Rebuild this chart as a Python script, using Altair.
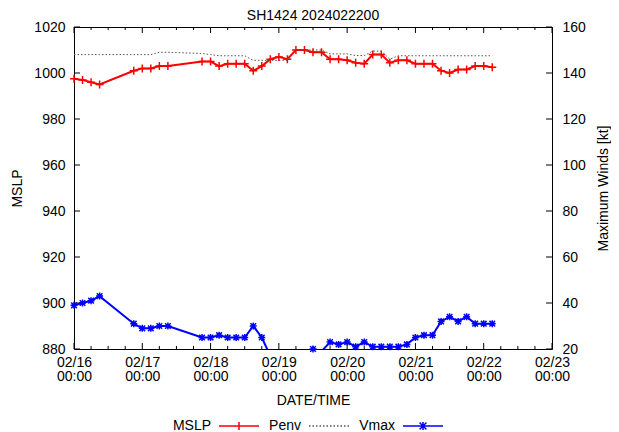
import altair as alt
import pandas as pd

# ---------------- data ----------------
times = [
    "2024021600", "2024021603", "2024021606", "2024021609",
    "2024021621", "2024021700", "2024021703", "2024021706", "2024021709",
    "2024021721", "2024021800", "2024021803", "2024021806", "2024021809",
    "2024021812", "2024021815", "2024021818", "2024021821",
    "2024021900", "2024021903", "2024021906", "2024021909",
    "2024021912", "2024021915", "2024021918", "2024021921",
    "2024022000", "2024022003", "2024022006", "2024022009",
    "2024022012", "2024022015", "2024022018", "2024022021",
    "2024022100", "2024022103", "2024022106", "2024022109",
    "2024022112", "2024022115", "2024022118", "2024022121",
    "2024022200", "2024022203",
]
mslp = [
    997.5, 997, 996, 995,
    1001, 1002, 1002, 1003, 1003,
    1005, 1005, 1003, 1004, 1004, 1004, 1001, 1003, 1006,
    1007, 1006, 1010, 1010, 1009, 1009, 1006, 1006,
    1005.5, 1004.5, 1004, 1008, 1008, 1004.5, 1005.5, 1005.5,
    1004, 1004, 1004, 1001, 1000, 1001.5, 1001.5, 1003,
    1003, 1002.5,
]
penv = [
    1008, 1008, 1008, 1008,
    1008, 1008, 1008, 1009, 1009,
    1008.5, 1008, 1007.5, 1007.5, 1007.5, 1007.5, 1005.5, 1005.5, 1005.5,
    1005.5, 1005.5, 1010, 1010, 1010, 1010, 1008.3, 1008.3,
    1008.3, 1007.6, 1007.6, 1009.5, 1009.5, 1006, 1007.5, 1007.5,
    1007.5, 1007.5, 1007.5, 1007.5, 1007.5, 1007.5, 1007.5, 1007.5,
    1007.5, 1007.5,
]
vmax = [
    39, 40, 41, 43,
    31, 29, 29, 30, 30,
    25, 25, 26, 25, 25, 25, 30, 25, 17,
    15, 15, 15, 15, 20, 19, 23, 22,
    23, 21, 23, 21, 21, 21, 21, 22,
    25, 26, 26, 32, 34, 32, 34, 31,
    31, 31,
]

x_tick_hours = [0, 24, 48, 72, 96, 120, 144, 168]
x_minor_hours = [6, 12, 18, 30, 36, 42, 54, 60, 66, 78, 84, 90, 102, 108, 114,
                 126, 132, 138, 150, 156, 162]
x_tick_dates = ["02/16", "02/17", "02/18", "02/19", "02/20", "02/21", "02/22", "02/23"]
x_tick_times = ["00:00"] * 8
p_ticks = [880, 900, 920, 940, 960, 980, 1000, 1020]
w_ticks = [20, 40, 60, 80, 100, 120, 140, 160]

series = ["MSLP", "Penv", "Vmax"]
series_colors = ["#ff0000", "#555555", "#0000ff"]

# ---------------- frames ----------------
t = pd.to_datetime(times, format="%Y%m%d%H")
hours = (t - pd.Timestamp("2024-02-16 00:00")) / pd.Timedelta(hours=1)
df = pd.DataFrame({"h": hours, "mslp": mslp, "penv": penv, "vmax": vmax})
df_major = pd.DataFrame({"h": x_tick_hours})
df_minor = pd.DataFrame({"h": x_minor_hours})
df_p = pd.DataFrame({"p": p_ticks})
df_w = pd.DataFrame({"w": w_ticks})
df_leg = pd.DataFrame({"series": series})

W, H = 478, 322
FONT = "Liberation Sans"
FS = 14

PLUS = "M-1,0H1M0,-1V1"
STAR = "M-1,0H1M0,-1V1M-0.8,-0.8L0.8,0.8M-0.8,0.8L0.8,-0.8"
LEG_MSLP = "M-1,0H1M0,-0.2V0.2"
LEG_PENV = "M-1,0H1"
LEG_VMAX = "M-1,0H1M-0.17,-0.17L0.17,0.17M-0.17,0.17L0.17,-0.17M0,-0.2V0.2"

xs = alt.Scale(domain=[0, 168], nice=False, zero=False)
ysl = alt.Scale(domain=[880, 1020], nice=False, zero=False)
ysr = alt.Scale(domain=[20, 160], nice=False, zero=False)

dates_js = "[" + ",".join("'%s'" % d for d in x_tick_dates) + "]"
times_js = "[" + ",".join("'%s'" % d for d in x_tick_times) + "]"
label_expr = "[%s[round(datum.value/24)], %s[round(datum.value/24)]]" % (dates_js, times_js)

x_axis = alt.Axis(
    values=x_tick_hours, labelExpr=label_expr, ticks=False, tickSize=0, domain=False,
    grid=False, labelPadding=6, labelLineHeight=14, labelFontSize=FS, labelFont=FONT,
    labelColor="black", labelFlush=False, labelOverlap=False,
    title="DATE/TIME", titleFontSize=FS, titleFont=FONT, titleFontWeight="normal",
    titleColor="black", titleX=W / 2, titleY=51, titleBaseline="middle", titleAlign="center",
)
yl_axis = alt.Axis(
    values=p_ticks, orient="left", ticks=False, tickSize=0, domain=False, grid=False,
    format="d", labelPadding=9, labelFontSize=FS, labelFont=FONT, labelColor="black",
    title="MSLP", titleFontSize=FS, titleFont=FONT, titleFontWeight="normal",
    titleColor="black", titleAngle=270, titleX=-57, titleY=H / 2,
    titleAlign="center", titleBaseline="middle",
)
yr_axis = alt.Axis(
    values=w_ticks, orient="right", ticks=False, tickSize=0, domain=False, grid=False,
    format="d", labelPadding=10, labelFontSize=FS, labelFont=FONT, labelColor="black",
    title="Maximum Winds [kt]", titleFontSize=FS, titleFont=FONT, titleFontWeight="normal",
    titleColor="black", titleAngle=270, titleX=51, titleY=H / 2,
    titleAlign="center", titleBaseline="middle",
)

X = alt.X("h:Q", scale=xs, axis=x_axis)
base = alt.Chart(df)

red_line = base.mark_line(color="#ff0000", strokeWidth=2, clip=True).encode(
    x=X, y=alt.Y("mslp:Q", scale=ysl, axis=yl_axis),
)
red_pts = base.mark_point(shape=PLUS, size=64, color="#ff0000", strokeWidth=1.5,
                          filled=False, opacity=1).encode(
    x=X, y=alt.Y("mslp:Q", scale=ysl, axis=yl_axis),
).transform_filter("datum.mslp >= 880 && datum.mslp <= 1020")
penv_line = base.mark_line(color="#555555", strokeWidth=1, strokeDash=[1.5, 2], clip=True).encode(
    x=X, y=alt.Y("penv:Q", scale=ysl, axis=yl_axis),
)

def xtick(frame, y0, y1):
    return alt.Chart(frame).mark_rule(color="black", strokeWidth=1).encode(
        x=X, y=alt.value(y0), y2=alt.value(y1))

bot_major = xtick(df_major, H, H - 6)
bot_minor = xtick(df_minor, H, H - 3)
top_major = xtick(df_major, 0, 6)
top_minor = xtick(df_minor, 0, 3)

left_ticks = alt.Chart(df_p).mark_rule(color="black", strokeWidth=1).encode(
    y=alt.Y("p:Q", scale=ysl, axis=yl_axis), x=alt.value(0), x2=alt.value(6))

leg = alt.Legend(
    title=None, orient="none", legendX=144, legendY=378, direction="horizontal",
    symbolSize=1600, symbolStrokeWidth=1.5, symbolOpacity=1,
    labelFontSize=FS, labelFont=FONT, labelColor="black", labelAlign="right",
    labelOffset={"expr": "-49"}, columnPadding=7, padding=0,
)
legend_layer = alt.Chart(df_leg).mark_point(filled=False, clip=True).encode(
    x=alt.value(-200), y=alt.value(-200),
    color=alt.Color("series:N", scale=alt.Scale(domain=series, range=series_colors), legend=leg),
    shape=alt.Shape("series:N", scale=alt.Scale(domain=series, range=[LEG_MSLP, LEG_PENV, LEG_VMAX]), legend=leg),
    strokeDash=alt.StrokeDash("series:N", scale=alt.Scale(domain=series, range=[[1, 0], [1.5, 2], [1, 0]]), legend=leg),
)

left = alt.layer(red_line, red_pts, penv_line, left_ticks,
                 bot_major, bot_minor, top_major, top_minor, legend_layer)

blue_line = base.mark_line(color="#0000ff", strokeWidth=2, clip=True).encode(
    x=X, y=alt.Y("vmax:Q", scale=ysr, axis=yr_axis),
)
blue_pts = base.mark_point(shape=STAR, size=49, color="#0000ff", strokeWidth=1.5,
                           filled=False, opacity=1).encode(
    x=X, y=alt.Y("vmax:Q", scale=ysr, axis=yr_axis),
).transform_filter("datum.vmax >= 20 && datum.vmax <= 160")
right_ticks = alt.Chart(df_w).mark_rule(color="black", strokeWidth=1).encode(
    y=alt.Y("w:Q", scale=ysr, axis=yr_axis), x=alt.value(W), x2=alt.value(W - 6))

right = alt.layer(blue_line, blue_pts, right_ticks)

chart = alt.layer(left, right).resolve_scale(y="independent").properties(
    width=W, height=H,
    title=alt.TitleParams("SH1424 2024022200", fontSize=FS, font=FONT, fontWeight="normal",
                          color="black", anchor="middle", frame="group", offset=3, dy=6),
    padding={"left": 66, "top": 19, "right": 59, "bottom": 97},
    autosize=alt.AutoSizeParams(type="none"),
).configure(font=FONT).configure_view(stroke="black", strokeWidth=1)

chart.save("out.html", embed_options={"renderer": "svg", "actions": False})
